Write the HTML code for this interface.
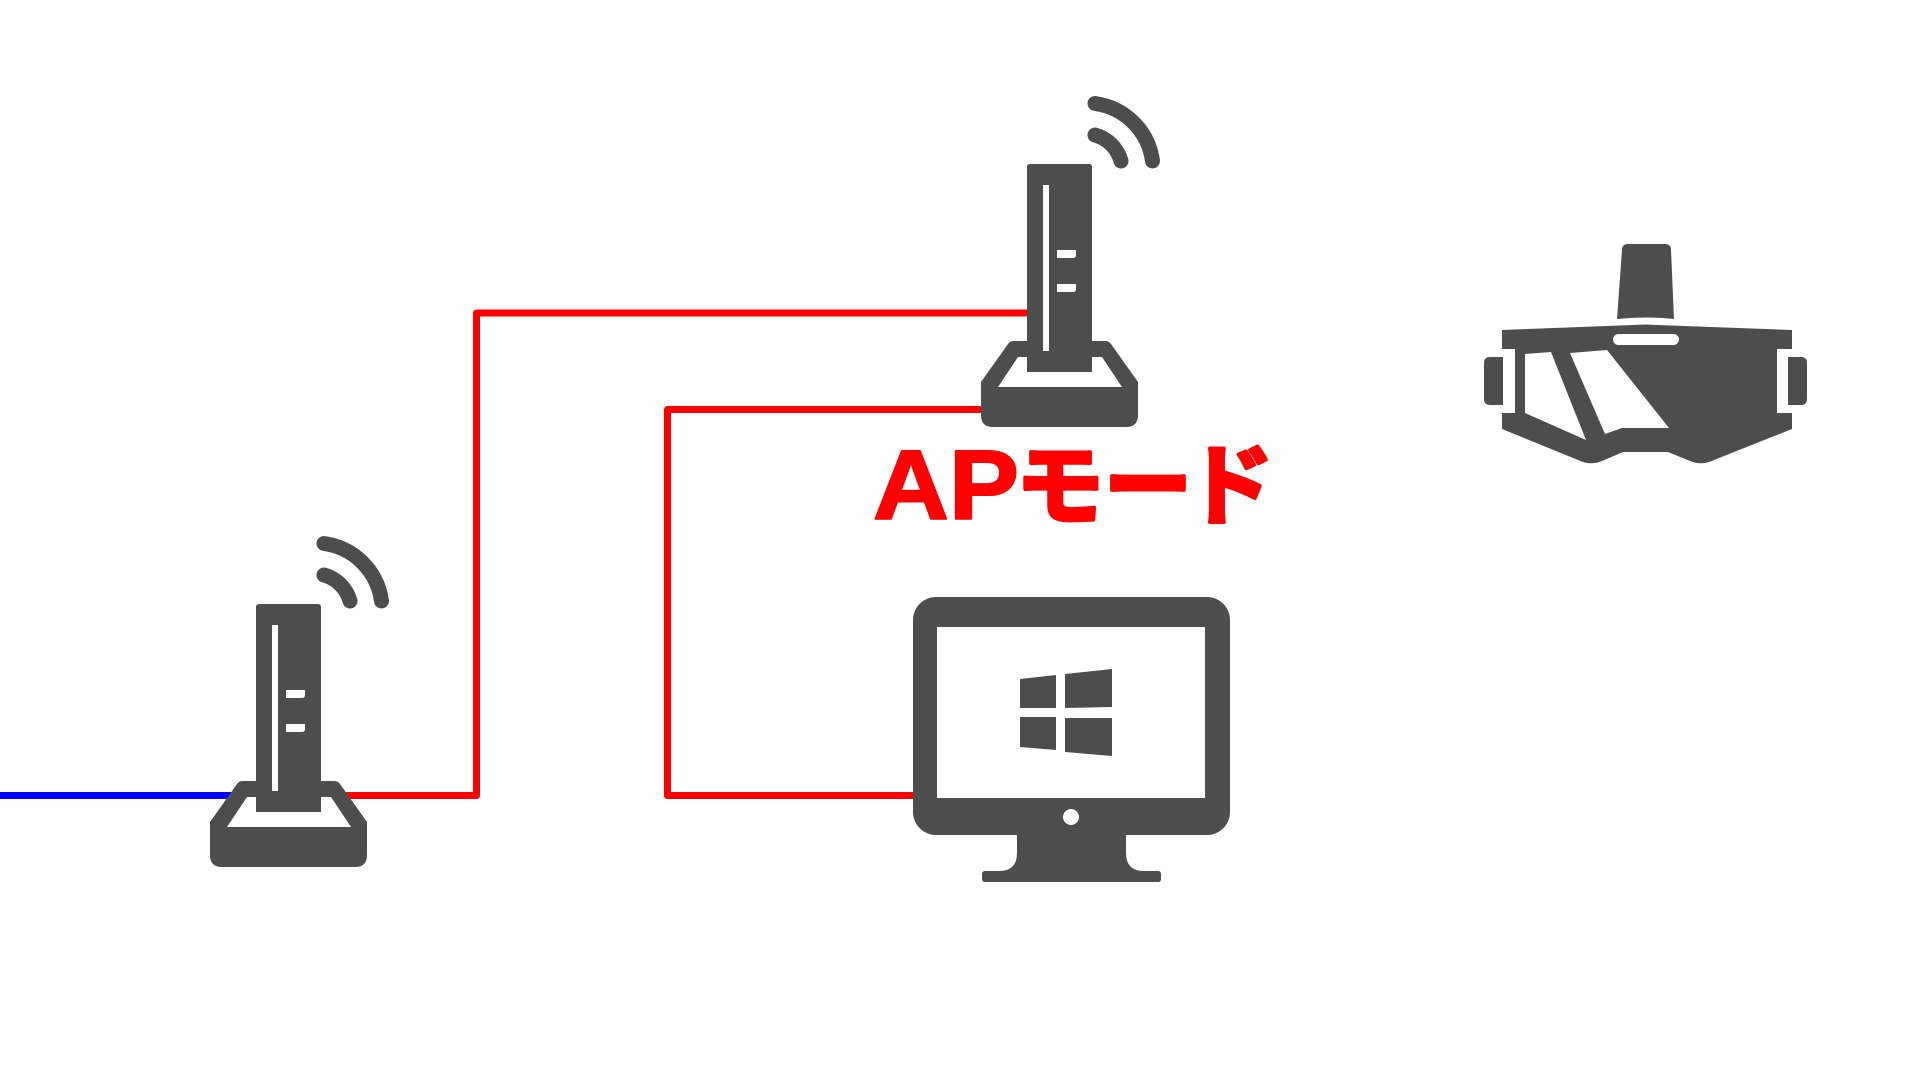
<!DOCTYPE html>
<html>
<head>
<meta charset="utf-8">
<style>
  html, body { margin:0; padding:0; background:#ffffff; }
  body { width:1920px; height:1080px; overflow:hidden; position:relative; }
  svg { position:absolute; left:0; top:0; }
</style>
</head>
<body>
<svg width="1920" height="1080" viewBox="0 0 1920 1080" xmlns="http://www.w3.org/2000/svg">
  <!-- connectors -->
  <path d="M0,795.5 L236,795.5" stroke="#0000ff" stroke-width="7" fill="none"/>
  <path d="M347,795.5 L476.5,795.5 L476.5,313 L1030,313" stroke="#ff0000" stroke-width="7" fill="none" stroke-linejoin="round" stroke-linecap="round"/>
  <path d="M985,409.5 L667.5,409.5 L667.5,795.5 L916,795.5" stroke="#ff0000" stroke-width="7" fill="none" stroke-linejoin="round" stroke-linecap="round"/>

  <!-- router (top) -->
  <g fill="#4d4d4d">
    <path d="M1013,341 L1105,341 Q1109,341 1111,344 L1138,382 L1138,415 Q1138,427 1126,427 L993,427 Q981,427 981,415 L981,382 L1008,344 Q1010,341 1013,341 Z"/>
    <path d="M1018,357 L1102,357 L1122,387 L998,387 Z" fill="#ffffff"/>
    <path d="M1030,164 L1089,164 Q1092,164 1092,167 L1092,372 L1027,372 L1027,167 Q1027,164 1030,164 Z"/>
    <rect x="1043" y="185" width="6" height="166" fill="#ffffff"/>
    <path d="M1057,250 L1076,250 L1076,255 Q1076,258 1073,258 L1057,258 Z" fill="#ffffff"/>
    <path d="M1057,284 L1076,284 L1076,289 Q1076,292 1073,292 L1057,292 Z" fill="#ffffff"/>
    <path d="M1095,135 A37,37 0 0 1 1121,161" stroke="#4d4d4d" stroke-width="15" fill="none" stroke-linecap="round"/>
    <path d="M1095,103.5 A67,67 0 0 1 1152.5,161" stroke="#4d4d4d" stroke-width="15" fill="none" stroke-linecap="round"/>
  </g>

  <!-- router (bottom-left) -->
  <g transform="translate(-771,440)" fill="#4d4d4d">
    <path d="M1013,341 L1105,341 Q1109,341 1111,344 L1138,382 L1138,415 Q1138,427 1126,427 L993,427 Q981,427 981,415 L981,382 L1008,344 Q1010,341 1013,341 Z"/>
    <path d="M1018,357 L1102,357 L1122,387 L998,387 Z" fill="#ffffff"/>
    <path d="M1030,164 L1089,164 Q1092,164 1092,167 L1092,372 L1027,372 L1027,167 Q1027,164 1030,164 Z"/>
    <rect x="1043" y="185" width="6" height="166" fill="#ffffff"/>
    <path d="M1057,250 L1076,250 L1076,255 Q1076,258 1073,258 L1057,258 Z" fill="#ffffff"/>
    <path d="M1057,284 L1076,284 L1076,289 Q1076,292 1073,292 L1057,292 Z" fill="#ffffff"/>
    <path d="M1095,135 A37,37 0 0 1 1121,161" stroke="#4d4d4d" stroke-width="15" fill="none" stroke-linecap="round"/>
    <path d="M1095,103.5 A67,67 0 0 1 1152.5,161" stroke="#4d4d4d" stroke-width="15" fill="none" stroke-linecap="round"/>
  </g>

  <!-- monitor -->
  <g fill="#4d4d4d">
    <rect x="913" y="597" width="317" height="238" rx="23" ry="23"/>
    <rect x="937" y="627" width="268" height="171" fill="#ffffff"/>
    <circle cx="1071" cy="817" r="8" fill="#ffffff"/>
    <path d="M1017,830 L1126,830 L1126,853 Q1126,871 1144,871 L1158,871 Q1161,871 1161,874 L1161,879 Q1161,882 1158,882 L985,882 Q982,882 982,879 L982,874 Q982,871 985,871 L999,871 Q1017,871 1017,853 Z"/>
    <polygon points="1020,679 1056,675 1056,708 1020,708"/>
    <polygon points="1065,674 1112,669 1112,707 1065,708"/>
    <polygon points="1020,717 1056,717 1056,750 1020,747"/>
    <polygon points="1065,718 1112,718 1112,756 1065,752"/>
  </g>

  <!-- VR headset -->
  <g fill="#4d4d4d">
    <path d="M1628,244 L1665,244 Q1671,244 1671,250 L1674,319 Q1646,316 1617,319 L1622,250 Q1622,244 1628,244 Z"/>
    <path d="M1502,330 L1646,324.5 L1792,330 L1792,349 L1777,349 L1777,413 L1792,413 L1792,429 L1714,460 Q1702,466 1690,461 L1668,452 L1623,452 L1602,461 Q1590,466 1578,460 L1502,429 L1502,413 L1515,413 L1515,349 L1502,349 Z"/>
    <path d="M1503,357 L1490,357 Q1484,357 1484,363 L1484,399 Q1484,405 1490,405 L1503,405 Z"/>
    <path d="M1788,357 L1801,357 Q1807,357 1807,363 L1807,399 Q1807,405 1801,405 L1788,405 Z"/>
    <polygon points="1525,354 1551,352 1586,440 1525,413" fill="#ffffff"/>
    <polygon points="1570,353 1607,350 1669,428 1622,428 1605,434" fill="#ffffff"/>
    <rect x="1613" y="334" width="66" height="11" rx="5.5" ry="5.5" fill="#ffffff"/>
  </g>

  <!-- label -->
  <text x="873" y="519" font-family="'Liberation Sans', sans-serif" font-weight="bold" font-size="98" fill="#ff0000" stroke="#ff0000" stroke-width="2" stroke-linejoin="round" textLength="146" lengthAdjust="spacingAndGlyphs">AP</text>
  <text font-family="'Liberation Sans', 'Noto Sans CJK JP', sans-serif" font-weight="bold" font-size="88" fill="#ff0000" stroke="#ff0000" stroke-width="4" stroke-linejoin="round" y="517"><tspan x="1016">モ</tspan><tspan x="1104">ー</tspan><tspan x="1186">ド</tspan></text>
</svg>
</body>
</html>
